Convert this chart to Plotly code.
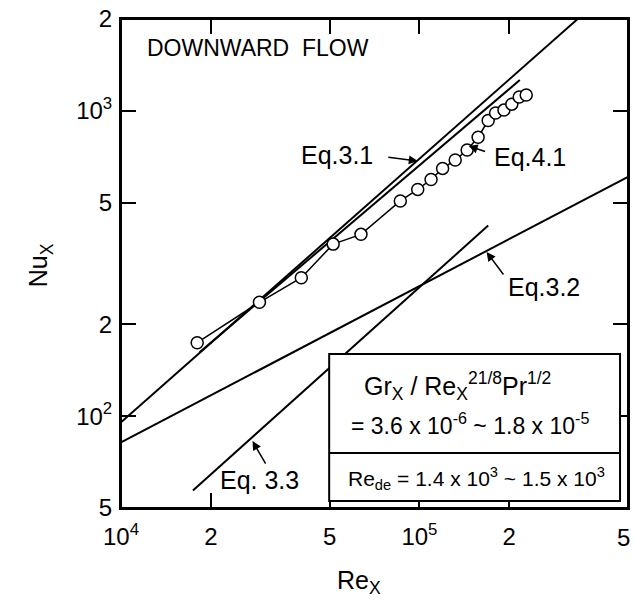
import plotly.graph_objects as go
import numpy as np

# ---- data ----
re_data = [1.80e4, 2.91e4, 4.02e4, 5.14e4, 6.37e4, 8.63e4, 9.87e4, 1.094e5, 1.196e5,
           1.318e5, 1.445e5, 1.573e5, 1.70e5, 1.80e5, 1.92e5, 2.04e5, 2.16e5, 2.28e5]
nu_data = [174, 236, 284, 366, 394, 507, 553, 596, 648,
           690, 744, 820, 930, 984, 1006, 1052, 1110, 1127]

eq31_re = [1.0e4, 3.39e5]
eq31_nu = [95.4, 2000]
eq41_re = [1.834e4, 2.17e5]
eq41_nu = [162, 1262]
eq32_re = [1.0e4, 5.0e5]
eq32_nu = [82.0, 608]
eq33_re = [1.742e4, 1.70e5]
eq33_nu = [57.1, 421]

x_tickvals = [1e4, 2e4, 5e4, 1e5, 2e5, 5e5]
x_ticktext = ["10<sup>4</sup>", "2", "5", "10<sup>5</sup>", "2", ""]
x_last_label = "5"
y_tickvals = [50, 100, 200, 500, 1000, 2000]
y_ticktext = ["5", "10<sup>2</sup>", "2", "5", "10<sup>3</sup>", "2"]

FONT = "Liberation Sans, Arial, sans-serif"
BLACK = "#000000"

# plot-area geometry in page pixels
PX0, PX1, PY0, PY1 = 121, 630, 19, 508
PW, PH = PX1 - PX0, PY1 - PY0
W, H = 634, 604

fig = go.Figure()
line_style = dict(color=BLACK, width=2)
for xs, ys in [(eq31_re, eq31_nu), (eq41_re, eq41_nu), (eq32_re, eq32_nu), (eq33_re, eq33_nu)]:
    fig.add_trace(go.Scatter(x=xs, y=ys, mode="lines", line=line_style,
                             showlegend=False, hoverinfo="skip"))
fig.add_trace(go.Scatter(x=re_data, y=nu_data, mode="lines+markers",
                         line=dict(color=BLACK, width=1.5),
                         marker=dict(symbol="circle", size=12, color="white",
                                     line=dict(color=BLACK, width=1.5)),
                         showlegend=False))

annotations = []
def label(text, lx, ly, size=25, xanchor="center"):
    annotations.append(dict(text=text, x=lx, y=ly, xref="x", yref="y", showarrow=False,
                            xanchor=xanchor, yanchor="middle",
                            font=dict(family=FONT, size=size, color=BLACK)))
def arrow(tx, ty, ax, ay):
    annotations.append(dict(text="", x=tx, y=ty, xref="x", yref="y", showarrow=True,
                            ax=ax, ay=ay, arrowhead=2, arrowsize=1.2, arrowwidth=1.5,
                            arrowcolor=BLACK, standoff=0, startstandoff=0))

label("DOWNWARD  FLOW", 4.080, 3.206, size=23, xanchor="left")
label("Eq.3.1", 4.7226, 2.8554)
arrow(4.9947, 2.8357, -31, -4)
label("Eq.4.1", 5.3718, 2.8488)
arrow(5.1649, 2.8849, 18, 6)
label("Eq.3.2", 5.4185, 2.4229)
arrow(5.225, 2.5376, 18, 24)
label("Eq. 3.3", 4.464, 1.7905)
arrow(4.4406, 1.9183, 14, 24)

def px2paper(px, py):
    return (px - PX0) / PW, (PY1 - py) / PH

def ptext(text, px, py, size=24, angle=0, xanchor="center"):
    x, y = px2paper(px, py)
    annotations.append(dict(text=text, x=x, y=y, xref="paper", yref="paper",
                            showarrow=False, xanchor=xanchor, yanchor="middle",
                            textangle=angle,
                            font=dict(family=FONT, size=size, color=BLACK)))

ptext("Gr<sub>X</sub> / Re<sub>X</sub><sup>21/8</sup>Pr<sup>1/2</sup>", 459, 386, 25)
ptext("= 3.6 x 10<sup>-6</sup> ~ 1.8 x 10<sup>-5</sup>", 471, 424, 23)
ptext("Re<sub>de</sub> = 1.4 x 10<sup>3</sup> ~ 1.5 x 10<sup>3</sup>", 478, 478, 21)

# last x tick label kept inside the page edge
ptext(x_last_label, 634, 537, 24, xanchor="right")

# axis titles
ptext("Re<sub>X</sub>", 360, 582, 25)
ptext("Nu<sub>X</sub>", 40, 265, 25, angle=-90)

bx0, by0 = px2paper(330, 501)
bx1, by1 = px2paper(622, 354)
_, bdiv = px2paper(330, 453)
shapes = [
    dict(type="rect", xref="paper", yref="paper", x0=0, x1=1, y0=0, y1=1,
         line=dict(color=BLACK, width=2), layer="above"),
    dict(type="rect", xref="paper", yref="paper", x0=bx0, x1=bx1, y0=by0, y1=by1,
         line=dict(color=BLACK, width=2), fillcolor="white", layer="above"),
    dict(type="line", xref="paper", yref="paper", x0=bx0, x1=bx1, y0=bdiv, y1=bdiv,
         line=dict(color=BLACK, width=2), layer="above"),
]

axis_common = dict(type="log", showgrid=False, zeroline=False, showline=True,
                   linecolor=BLACK, linewidth=2, mirror="allticks", ticks="inside",
                   ticklen=15, tickwidth=1.5, tickcolor=BLACK, tickmode="array",
                   tickfont=dict(family=FONT, size=24, color=BLACK))
fig.update_layout(
    width=W, height=H,
    margin=dict(l=PX0, r=W - PX1, t=PY0, b=H - PY1),
    paper_bgcolor="white", plot_bgcolor="white",
    xaxis=dict(range=[4, np.log10(5e5) + 1e-6], tickvals=x_tickvals, ticktext=x_ticktext,
               ticklabelstandoff=6, **axis_common),
    yaxis=dict(range=[np.log10(50) - 1e-6, np.log10(2000) + 1e-6], tickvals=y_tickvals,
               ticktext=y_ticktext, ticklabelstandoff=2, **axis_common),
    annotations=annotations, shapes=shapes,
)
fig.write_html(
    "out.html",
    config={"displayModeBar": False},
    post_script=("document.body.style.margin='0';"
                 "document.body.style.overflow='hidden';"
                 "document.documentElement.style.overflow='hidden';"),
)
